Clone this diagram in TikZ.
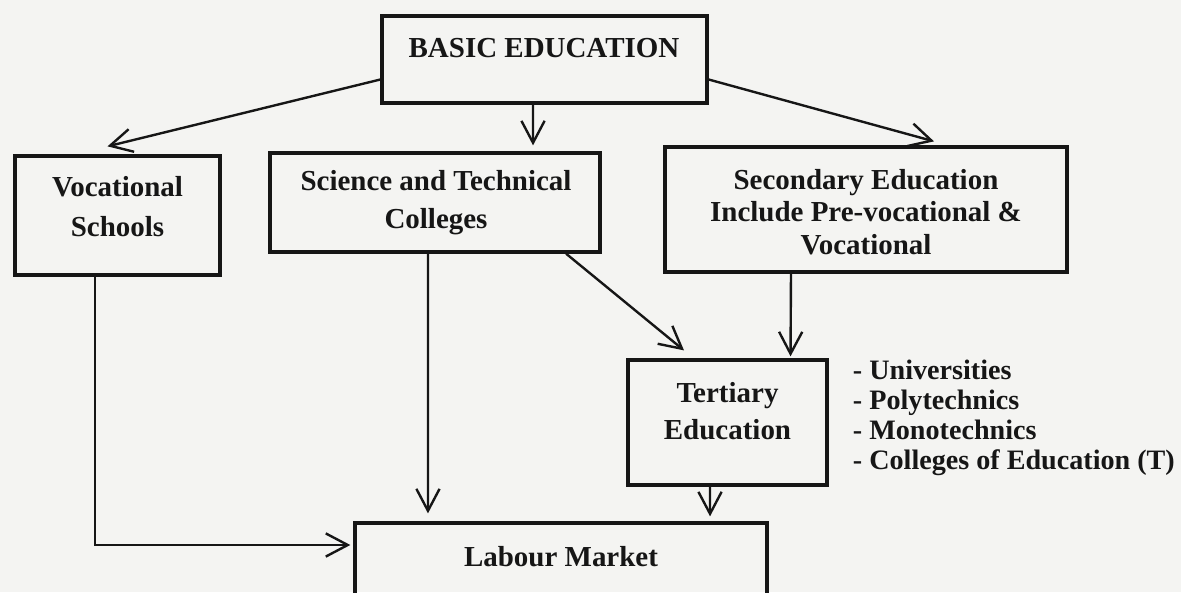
\documentclass[tikz,border=0pt]{standalone}
\usepackage{fontspec}
\setmainfont{Liberation Serif}
\usetikzlibrary{arrows.meta}

\definecolor{paper}{RGB}{244,244,242}
\definecolor{ink}{RGB}{22,22,22}

\tikzset{
  box/.style={draw=ink, line width=2.3pt, inner sep=0pt},
  txt/.style={text=ink, align=center, font=\bfseries\fontsize{20.6}{#1}\selectfont},
  txt/.default=27pt,
  arr/.style={draw=ink, line width=1.7pt, -{Straight Barb[length=5.5mm,width=5.8mm]}}
}

\begin{document}
\begin{tikzpicture}[x=0.025cm, y=-0.025cm]
  \fill[paper] (0,0) rectangle (1181,592);
  \clip (0,0) rectangle (1181,592);

  % boxes
  \node[box, minimum width=8.125cm, minimum height=2.175cm] (basic) at (544.5,59.5) {};
  \node[box, minimum width=5.125cm, minimum height=2.975cm] (voc) at (117.5,215.5) {};
  \node[box, minimum width=8.25cm, minimum height=2.475cm] (sci) at (435,202.5) {};
  \node[box, minimum width=10.05cm, minimum height=3.125cm] (sec) at (866,209.5) {};
  \node[box, minimum width=4.975cm, minimum height=3.125cm] (ter) at (727.5,422.5) {};
  \node[box, minimum width=10.3cm, minimum height=2.425cm] (labour) at (561,571.5) {};

  % texts
  \node[txt] (basic-t) at (544,48) {BASIC EDUCATION};
  \node[txt=28.5pt] (voc-t) at (117.5,207) {Vocational\\Schools};
  \node[txt] (sci-t) at (436,203) {Science and Technical\\Colleges};
  \node[txt=23pt] (sec-t) at (866,212) {Secondary Education\\Include Pre-vocational \&\\Vocational};
  \node[txt=26.3pt] (ter-t) at (727.5,411.5) {Tertiary\\Education};
  \node[txt] (labour-t) at (561,557) {Labour Market};
  \node[txt=21.3pt, font=\bfseries\fontsize{20}{21.3}\selectfont, align=left, anchor=west] (kinds) at (848,418)
    {- Universities\\- Polytechnics\\- Monotechnics\\- Colleges of Education (T)};

  % arrows
  \draw[arr] ([yshift=-0.5cm]basic.west) -- ([xshift=-0.25cm,yshift=0.2cm]voc.north);
  \draw[arr] ([xshift=-0.2875cm]basic.south) -- ([xshift=2.45cm,yshift=0.15cm]sci.north);
  \draw[arr] ([yshift=-0.5cm]basic.east) -- ([xshift=1.7cm,yshift=0.1cm]sec.north);
  \draw[arr] ([xshift=-0.175cm]sci.south) -- ([xshift=-3.325cm,yshift=0.2cm]labour.north);
  \draw[arr] ([xshift=3.275cm]sci.south) -- ([xshift=-1.0875cm,yshift=0.2cm]ter.north);
  \draw[arr] ([xshift=-1.875cm]sec.south) -- ([xshift=1.575cm,yshift=0.05cm]ter.north);
  \draw[arr] ([xshift=-0.4375cm]ter.south) -- ([xshift=3.725cm,yshift=0.125cm]labour.north);
  \draw[arr] ([xshift=-0.5625cm]voc.south) |- ([xshift=-0.075cm,yshift=0.6625cm]labour.west);
\end{tikzpicture}
\end{document}
